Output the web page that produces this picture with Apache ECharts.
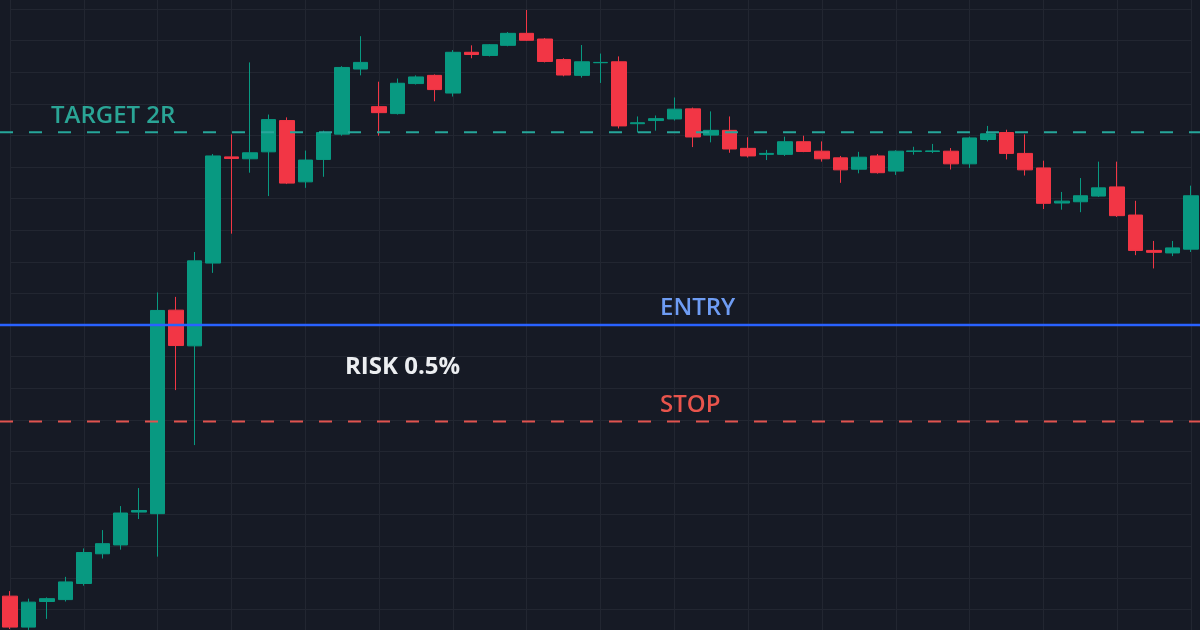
<!DOCTYPE html>
<html>
<head>
<meta charset="utf-8">
<script src="https://cdn.jsdelivr.net/npm/echarts@6/dist/echarts.min.js"></script>
<style>
html,body{margin:0;padding:0;background:#161a25;}
#chart{width:1200px;height:630px;}
</style>
</head>
<body>
<div id="chart"></div>
<script>
// ---- data ----
const categories = [
 '09:30','09:35','09:40','09:45','09:50','09:55','10:00','10:05','10:10','10:15','10:20','10:25','10:30',
 '10:35','10:40','10:45','10:50','10:55','11:00','11:05','11:10','11:15','11:20','11:25','11:30','11:35',
 '11:40','11:45','11:50','11:55','12:00','12:05','12:10','12:15','12:20','12:25','12:30','12:35','12:40',
 '12:45','12:50','12:55','13:00','13:05','13:10','13:15','13:20','13:25','13:30','13:35','13:40','13:45',
 '13:50','13:55','14:00','14:05','14:10','14:15','14:20','14:25','14:30','14:35','14:40','14:45','14:50'
];
const opens = [
 99.142, 99.044, 99.125, 99.131, 99.182, 99.276, 99.304, 99.408, 99.403, 100.047,
 99.934, 100.196, 100.532, 100.526, 100.548, 100.647, 100.453, 100.524, 100.604, 100.810,
 100.691, 100.669, 100.764, 100.790, 100.734, 100.863, 100.853, 100.885, 100.923, 100.905,
 100.840, 100.790, 100.830, 100.833, 100.637, 100.647, 100.652, 100.684, 100.601, 100.616,
 100.559, 100.540, 100.540, 100.580, 100.550, 100.529, 100.493, 100.535, 100.487, 100.549,
 100.549, 100.550, 100.510, 100.587, 100.609, 100.543, 100.497, 100.386, 100.390, 100.408,
 100.437, 100.348, 100.236, 100.228, 100.240
];
const closes = [
 99.044, 99.123, 99.134, 99.187, 99.280, 99.308, 99.405, 99.413, 100.046, 99.935,
 100.203, 100.535, 100.527, 100.545, 100.650, 100.449, 100.522, 100.609, 100.815, 100.831,
 100.672, 100.765, 100.785, 100.745, 100.863, 100.856, 100.887, 100.923, 100.901, 100.834,
 100.791, 100.833, 100.831, 100.630, 100.640, 100.653, 100.683, 100.595, 100.616, 100.557,
 100.535, 100.543, 100.580, 100.549, 100.526, 100.491, 100.531, 100.482, 100.550, 100.551,
 100.551, 100.510, 100.592, 100.605, 100.543, 100.491, 100.385, 100.392, 100.409, 100.434,
 100.346, 100.236, 100.230, 100.244, 100.409
];
const lows = [
 99.038, 99.035, 99.070, 99.125, 99.175, 99.261, 99.289, 99.386, 99.267, 99.794,
 99.620, 100.165, 100.289, 100.482, 100.408, 100.446, 100.434, 100.469, 100.599, 100.790,
 100.599, 100.666, 100.761, 100.708, 100.723, 100.844, 100.850, 100.882, 100.899, 100.831,
 100.787, 100.783, 100.766, 100.622, 100.609, 100.615, 100.647, 100.563, 100.578, 100.545,
 100.530, 100.522, 100.535, 100.547, 100.517, 100.450, 100.480, 100.479, 100.475, 100.539,
 100.544, 100.492, 100.497, 100.581, 100.524, 100.473, 100.367, 100.365, 100.357, 100.405,
 100.342, 100.221, 100.179, 100.218, 100.231
];
const highs = [
 99.158, 99.134, 99.138, 99.203, 99.293, 99.351, 99.427, 99.484, 100.103, 100.089,
 100.231, 100.541, 100.603, 100.831, 100.666, 100.657, 100.552, 100.615, 100.819, 100.914,
 100.770, 100.780, 100.790, 100.793, 100.870, 100.885, 100.889, 100.927, 100.997, 100.908,
 100.844, 100.886, 100.859, 100.850, 100.660, 100.663, 100.720, 100.688, 100.676, 100.660,
 100.594, 100.554, 100.596, 100.599, 100.581, 100.535, 100.548, 100.541, 100.553, 100.564,
 100.573, 100.560, 100.596, 100.630, 100.618, 100.603, 100.520, 100.421, 100.465, 100.517,
 100.517, 100.393, 100.266, 100.266, 100.441
];
const ENTRY = 100.000;
const STOP = 99.695;
const TARGET = 100.610;
const labelTexts = { target: 'TARGET 2R', entry: 'ENTRY', stop: 'STOP', risk: 'RISK 0.5%' };
const Y_MIN = 99.0, Y_MAX = 101.1, Y_STEP = 0.1;

// ---- styles ----
const BG = '#161a25';
const GRID = '#222631';
const UP = '#089981';
const DOWN = '#f23645';
const TEAL = '#26a69a';
const RED = '#e0534f';
const BLUE = '#2962ff';
const FONT = "'Open Sans', 'Noto Sans', sans-serif";

const candleData = opens.map((o, i) => [o, closes[i], lows[i], highs[i]]);

const gridTop = -22.6, gridHeight = 663.6;

function levelLine(value, color, type, width) {
  return {
    type: 'line', xAxisIndex: 1, yAxisIndex: 1, silent: true,
    data: [[0, value], [100, value]], symbol: 'none', z: 5,
    lineStyle: { color: color, width: width, type: type, cap: 'butt' },
    animation: false
  };
}

function textMark(xPct, value, text, color, dy, weight) {
  return {
    type: 'scatter', xAxisIndex: 1, yAxisIndex: 1, silent: true, z: 6,
    symbolSize: 1, itemStyle: { color: 'rgba(0,0,0,0)', opacity: 1 },
    data: [{ value: [xPct, value], name: text }],
    label: {
      show: true, position: 'inside', align: 'left', verticalAlign: 'middle',
      offset: [0, dy], formatter: '{b}', color: color, opacity: 1,
      fontSize: 24, fontWeight: weight, fontFamily: FONT
    },
    animation: false
  };
}

const chart = echarts.init(document.getElementById('chart'), null, { renderer: 'canvas' });
chart.setOption({
  backgroundColor: BG,
  animation: false,
  grid: [
    { left: 10, width: 1181, top: gridTop, height: gridHeight, containLabel: false, outerBoundsMode: 'none' },
    { left: 0, width: 1200, top: gridTop, height: gridHeight, containLabel: false, outerBoundsMode: 'none' }
  ],
  xAxis: [
    {
      type: 'category', gridIndex: 0, data: categories, boundaryGap: false,
      axisLine: { show: false }, axisTick: { show: false }, axisLabel: { show: false },
      splitLine: { show: true, interval: 3, lineStyle: { color: GRID, width: 1 } }
    },
    {
      type: 'value', gridIndex: 1, min: 0, max: 100,
      axisLine: { show: false }, axisTick: { show: false }, axisLabel: { show: false },
      splitLine: { show: false }
    }
  ],
  yAxis: [
    {
      type: 'value', gridIndex: 0, min: Y_MIN, max: Y_MAX, interval: Y_STEP, scale: true,
      axisLine: { show: false }, axisTick: { show: false }, axisLabel: { show: false },
      splitLine: { show: true, lineStyle: { color: GRID, width: 1 } }
    },
    {
      type: 'value', gridIndex: 1, min: Y_MIN, max: Y_MAX, interval: Y_STEP, scale: true,
      axisLine: { show: false }, axisTick: { show: false }, axisLabel: { show: false },
      splitLine: { show: false }
    }
  ],
  series: [
    {
      type: 'candlestick', xAxisIndex: 0, yAxisIndex: 0, data: candleData,
      barWidth: 15, silent: true,
      itemStyle: { color: UP, color0: DOWN, borderColor: UP, borderColor0: DOWN, borderWidth: 1 }
    },
    levelLine(TARGET, TEAL, [13, 16], 2),
    levelLine(STOP, RED, [13, 16], 2),
    levelLine(ENTRY, BLUE, 'solid', 2.5),
    textMark(4.25, TARGET, labelTexts.target, '#2aa596', -16.3, 600),
    textMark(55.0, ENTRY, labelTexts.entry, '#6e9cf3', -17.3, 600),
    textMark(55.0, STOP, labelTexts.stop, '#e8544c', -16.7, 600),
    textMark(28.75, ENTRY, labelTexts.risk, '#eceef1', 41.7, 700)
  ]
});
</script>
</body>
</html>
